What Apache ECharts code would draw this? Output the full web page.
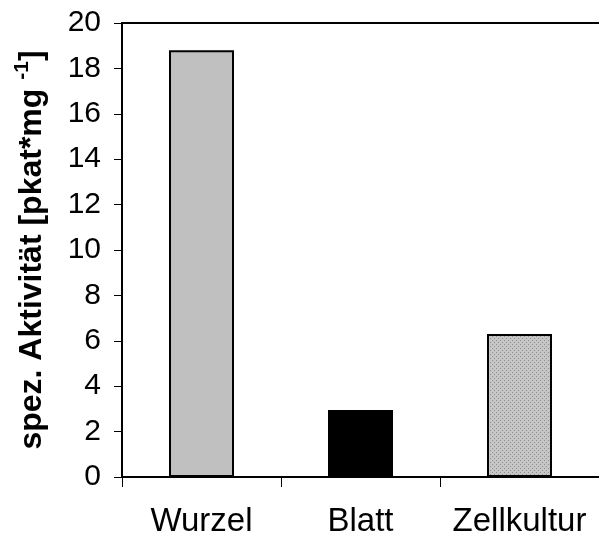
<!DOCTYPE html>
<html>
<head>
<meta charset="utf-8">
<script src="https://cdn.jsdelivr.net/npm/echarts@6/dist/echarts.min.js"></script>
<style>
  html, body { margin: 0; padding: 0; background: #fff; }
  #chart { width: 599px; height: 550px; }
</style>
</head>
<body>
<div id="chart"></div>
<script>
// Specific activity per tissue source
const categories = ['Wurzel', 'Blatt', 'Zellkultur'];
const activity = [18.8, 2.95, 6.3];
const yTicks = [0, 2, 4, 6, 8, 10, 12, 14, 16, 18, 20];

// Stippled fill for the cell culture bar
function dotPattern() {
  const c = document.createElement('canvas');
  c.width = 4; c.height = 4;
  const ctx = c.getContext('2d');
  ctx.fillStyle = '#c6c6c6';
  ctx.fillRect(0, 0, 4, 4);
  ctx.fillStyle = '#8e8e8e';
  ctx.fillRect(0, 0, 1, 1);
  ctx.fillRect(2, 2, 1, 1);
  return c;
}

const fills = ['#c0c0c0', '#000000', { image: dotPattern(), repeat: 'repeat' }];
const font = 'Liberation Sans, Arial, sans-serif';

const chart = echarts.init(document.getElementById('chart'), null, { renderer: 'canvas' });
chart.setOption({
  animation: false,
  backgroundColor: '#fff',
  grid: { left: 122, top: 23, width: 480, height: 454, show: false },
  xAxis: {
    type: 'category',
    data: categories,
    axisLine: { lineStyle: { color: '#000', width: 2 } },
    axisTick: { show: true, length: 10, lineStyle: { color: '#000', width: 1 } },
    axisLabel: { color: '#000', fontSize: 33, fontFamily: font, margin: 28, interval: 0, hideOverlap: false }
  },
  yAxis: {
    type: 'value',
    min: 0, max: 20, interval: 2,
    name: '{a|spez. Aktivität [pkat*mg }{s|-1}{a|]}',
    nameLocation: 'middle',
    nameGap: 69,
    nameRotate: 90,
    nameTextStyle: {
      rich: {
        a: { fontSize: 32, fontWeight: 'bold', fontFamily: font, color: '#000' },
        s: { fontSize: 21, fontWeight: 'bold', fontFamily: font, color: '#000', verticalAlign: 'top', padding: [0, 0, 20, 0] }
      }
    },
    axisLine: { show: true, lineStyle: { color: '#000', width: 2 } },
    axisTick: { show: true, length: 8, lineStyle: { color: '#000', width: 1 } },
    axisLabel: {
      color: '#000', fontSize: 30, fontFamily: font, margin: 21,
      formatter: v => (yTicks.includes(v) ? String(v) : '')
    },
    splitLine: { show: false }
  },
  series: [{
    type: 'bar',
    barWidth: 65,
    data: activity.map((v, i) => ({
      value: v,
      itemStyle: { color: fills[i], borderColor: '#000', borderWidth: 2 }
    }))
  }],
  graphic: [{
    type: 'line',
    shape: { x1: 121, y1: 23, x2: 602, y2: 23 },
    style: { stroke: '#000', lineWidth: 2 }
  }]
});
</script>
</body>
</html>
